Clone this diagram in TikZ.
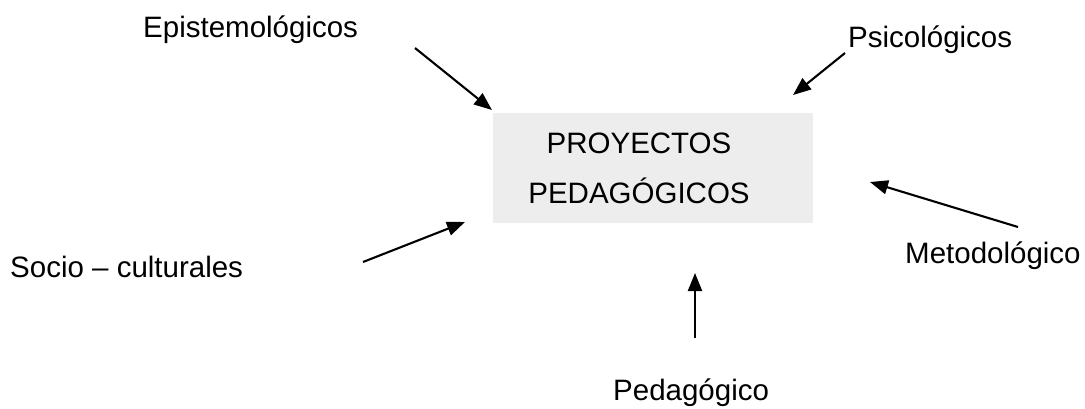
\documentclass[tikz,border=0pt]{standalone}
\usepackage{fontspec}
\setmainfont{Liberation Sans}
\usetikzlibrary{arrows.meta}
\tikzset{
  lbl/.style={anchor=base west, inner sep=0pt, font=\fontsize{29.5}{35}\selectfont},
  ttl/.style={anchor=base, inner sep=0pt, font=\fontsize{29.5}{35}\selectfont},
  panel/.style={fill=black!7, draw=none, minimum width=320pt, minimum height=110pt, inner sep=0pt},
  arr/.style={line width=2.1pt, -{Triangle[length=18pt,width=14pt]}}
}
\begin{document}
\begin{tikzpicture}[x=1pt,y=-1pt]
\useasboundingbox (0,0) rectangle (1085,408);
\node[panel] (box) at (653,168) {};
\node[ttl] (t1) at (639,153) {PROYECTOS};
\node[ttl] (t2) at (639,203) {PEDAGÓGICOS};
\node[lbl] (epi) at (143,37) {Epistemológicos};
\node[lbl] (psi) at (848,47) {Psicológicos};
\node[lbl] (soc) at (10,277) {Socio – culturales};
\node[lbl] (met) at (905,263) {Metodológico};
\node[lbl] (ped) at (613,400) {Pedagógico};
\coordinate (epiA) at (415,48);  \coordinate (epiB) at (492,110);
\coordinate (psiA) at (845,53);  \coordinate (psiB) at (793,95);
\coordinate (socA) at (363,262); \coordinate (socB) at (465,222);
\coordinate (metA) at (1018,227);\coordinate (metB) at (870,182);
\coordinate (pedA) at (695,338); \coordinate (pedB) at (695,273);
\draw[arr] (epiA) -- (epiB);
\draw[arr] (psiA) -- (psiB);
\draw[arr] (socA) -- (socB);
\draw[arr] (metA) -- (metB);
\draw[arr] (pedA) -- (pedB);
\end{tikzpicture}
\end{document}
